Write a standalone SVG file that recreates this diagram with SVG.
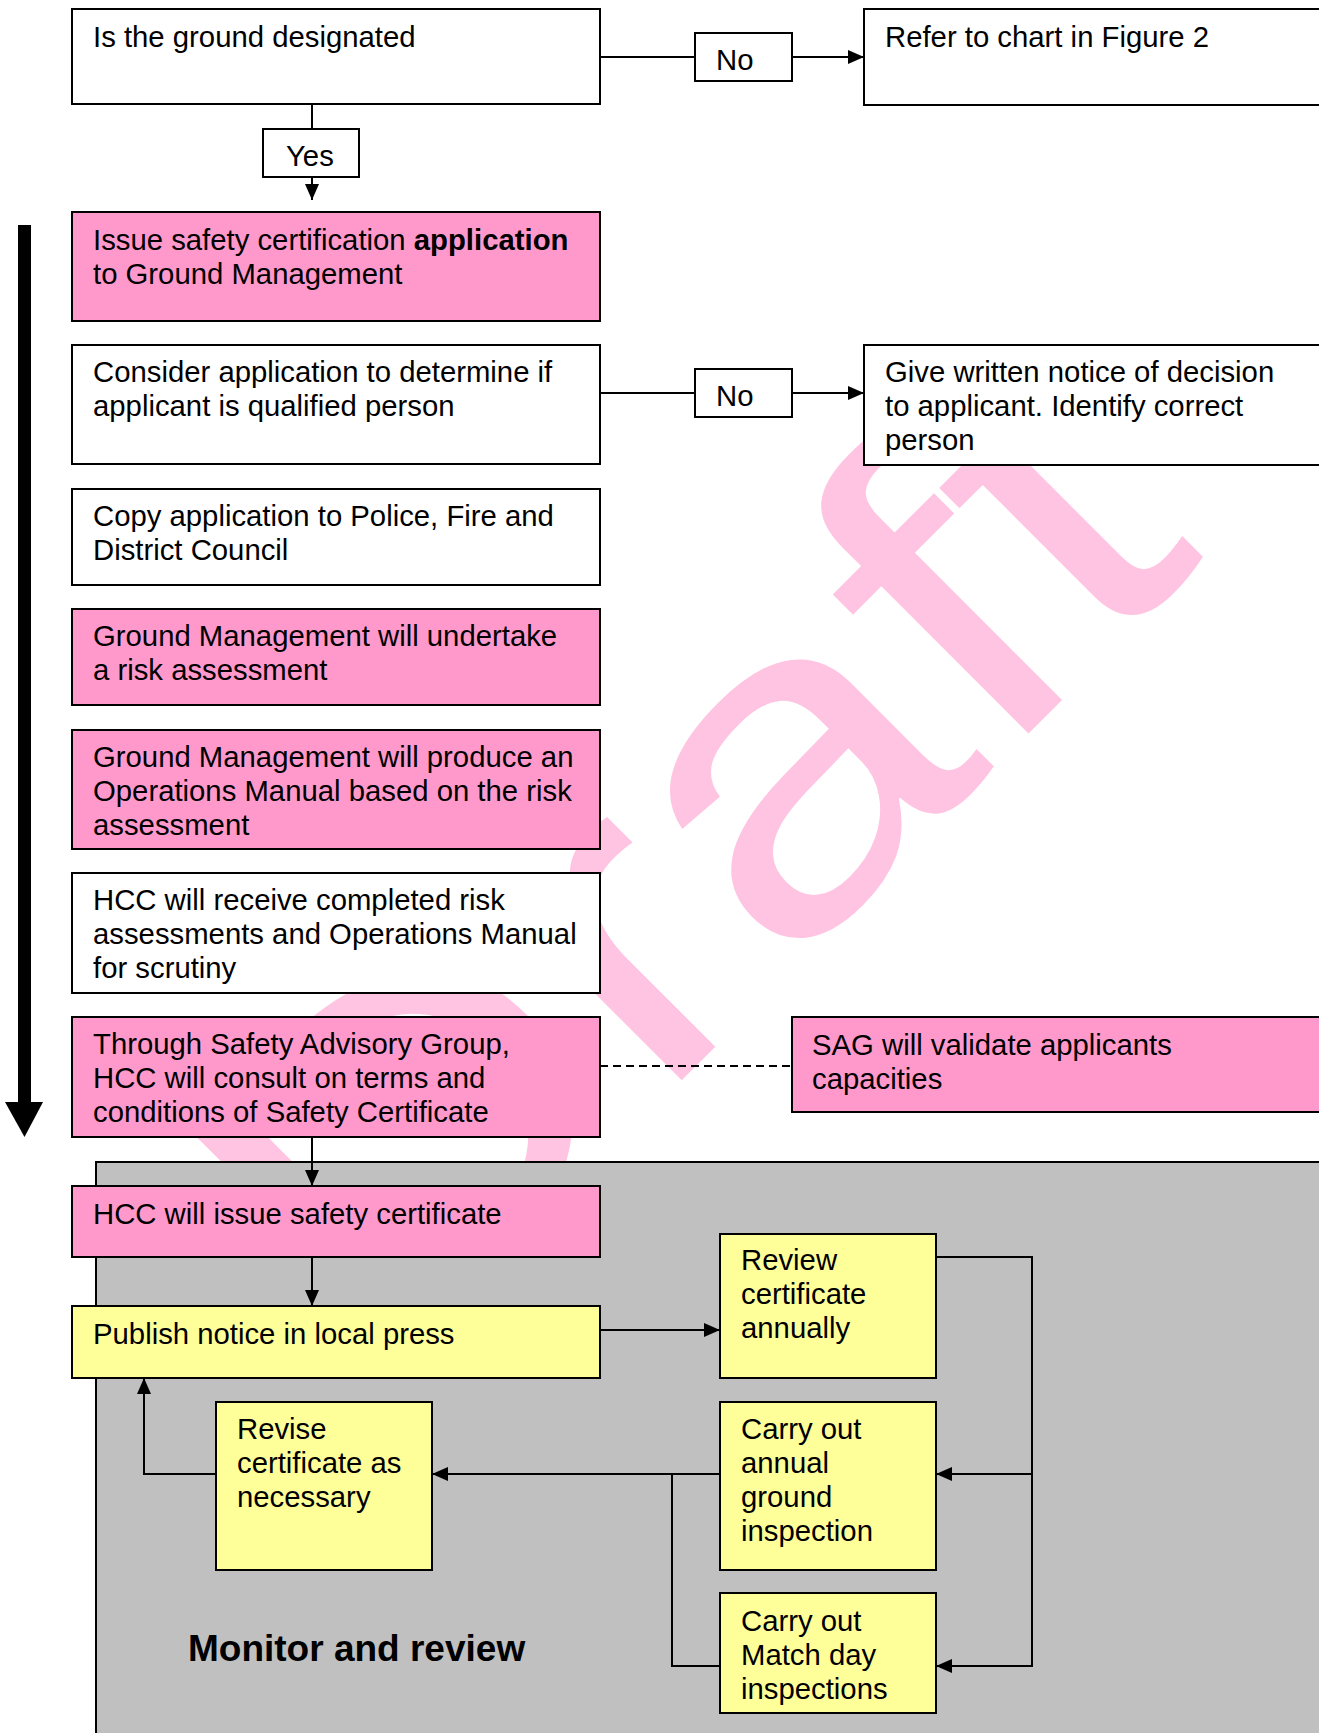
<svg xmlns="http://www.w3.org/2000/svg" width="1319" height="1733" viewBox="0 0 1319 1733">
<style>
text{font-family:"Liberation Sans",Arial,sans-serif;font-size:29.3px;fill:#000}
.box{stroke:#000;stroke-width:2}
.w{fill:#fff}.p{fill:#ff99cc}.y{fill:#ffff99}
.ln{fill:none;stroke:#000;stroke-width:2}
.wm{font-size:540px;fill:#ffc4e2}
.title{font-size:37px;font-weight:bold}
</style>
<defs>
<marker id="ah" markerUnits="userSpaceOnUse" markerWidth="16" markerHeight="14" refX="16" refY="7" orient="auto"><path d="M0,0 L16,7 L0,14 z" fill="#000"/></marker>
</defs>
<rect x="0" y="0" width="1319" height="1733" fill="#fff"/>
<text class="wm" x="0" y="0" transform="translate(379.5 1382.5) rotate(-45) scale(1 0.83)">Draft</text>
<rect id="monitor-area" x="96" y="1162" width="1240" height="600" fill="#c0c0c0" stroke="#000" stroke-width="2"/>
<g id="progress-arrow">
<rect x="18" y="225" width="13" height="878" fill="#000"/>
<polygon points="5,1102 43,1102 24.5,1137" fill="#000"/>
</g>
<g id="connectors">
<path class="ln" d="M600,57 H695"/>
<path class="ln" d="M792,57 H864" marker-end="url(#ah)"/>
<path class="ln" d="M312,104 V129"/>
<path class="ln" d="M312,177 V200" marker-end="url(#ah)"/>
<path class="ln" d="M600,393 H695"/>
<path class="ln" d="M792,393 H864" marker-end="url(#ah)"/>
<path class="ln" d="M600,1066 H792" stroke-dasharray="8,5" stroke-width="1.6"/>
<path class="ln" d="M312,1137 V1186" marker-end="url(#ah)"/>
<path class="ln" d="M312,1257 V1306" marker-end="url(#ah)"/>
<path class="ln" d="M600,1330 H720" marker-end="url(#ah)"/>
<path class="ln" d="M936,1257 H1032 V1666 H936" marker-end="url(#ah)"/>
<path class="ln" d="M1032,1474 H936" marker-end="url(#ah)"/>
<path class="ln" d="M720,1474 H432" marker-end="url(#ah)"/>
<path class="ln" d="M720,1666 H672 V1474"/>
<path class="ln" d="M216,1474 H144 V1378" marker-end="url(#ah)"/>
</g>
<g id="n-designated"><rect class="box w" x="72" y="9" width="528" height="95"/><text x="93" y="47">Is the ground designated</text></g>
<g id="l-yes"><rect class="box w" x="263" y="129" width="96" height="48"/><text x="286" y="166">Yes</text></g>
<g id="l-no1"><rect class="box w" x="695" y="33" width="97" height="48"/><text x="716" y="70">No</text></g>
<g id="n-refer"><rect class="box w" x="864" y="9" width="480" height="96"/><text x="885" y="47">Refer to chart in Figure 2</text></g>
<g id="n-issue-app"><rect class="box p" x="72" y="212" width="528" height="109"/><text x="93" y="250">Issue safety certification <tspan font-weight="bold">application</tspan></text><text x="93" y="284">to Ground Management</text></g>
<g id="n-consider"><rect class="box w" x="72" y="345" width="528" height="119"/><text x="93" y="382">Consider application to determine if</text><text x="93" y="416">applicant is qualified person</text></g>
<g id="l-no2"><rect class="box w" x="695" y="369" width="97" height="48"/><text x="716" y="406">No</text></g>
<g id="n-notice"><rect class="box w" x="864" y="345" width="480" height="120"/><text x="885" y="382">Give written notice of decision</text><text x="885" y="416">to applicant. Identify correct</text><text x="885" y="450">person</text></g>
<g id="n-copy"><rect class="box w" x="72" y="489" width="528" height="96"/><text x="93" y="526">Copy application to Police, Fire and</text><text x="93" y="560">District Council</text></g>
<g id="n-risk"><rect class="box p" x="72" y="609" width="528" height="96"/><text x="93" y="646">Ground Management will undertake</text><text x="93" y="680">a risk assessment</text></g>
<g id="n-manual"><rect class="box p" x="72" y="730" width="528" height="119"/><text x="93" y="767">Ground Management will produce an</text><text x="93" y="801">Operations Manual based on the risk</text><text x="93" y="835">assessment</text></g>
<g id="n-receive"><rect class="box w" x="72" y="873" width="528" height="120"/><text x="93" y="910">HCC will receive completed risk</text><text x="93" y="944">assessments and Operations Manual</text><text x="93" y="978">for scrutiny</text></g>
<g id="n-consult"><rect class="box p" x="72" y="1017" width="528" height="120"/><text x="93" y="1054">Through Safety Advisory Group,</text><text x="93" y="1088">HCC will consult on terms and</text><text x="93" y="1122">conditions of Safety Certificate</text></g>
<g id="n-sag"><rect class="box p" x="792" y="1017" width="550" height="95"/><text x="812" y="1055">SAG will validate applicants</text><text x="812" y="1089">capacities</text></g>
<g id="n-issue-cert"><rect class="box p" x="72" y="1186" width="528" height="71"/><text x="93" y="1224">HCC will issue safety certificate</text></g>
<g id="n-publish"><rect class="box y" x="72" y="1306" width="528" height="72"/><text x="93" y="1344">Publish notice in local press</text></g>
<g id="n-review"><rect class="box y" x="720" y="1234" width="216" height="144"/><text x="741" y="1270">Review</text><text x="741" y="1304">certificate</text><text x="741" y="1338">annually</text></g>
<g id="n-annual"><rect class="box y" x="720" y="1402" width="216" height="168"/><text x="741" y="1439">Carry out</text><text x="741" y="1473">annual</text><text x="741" y="1507">ground</text><text x="741" y="1541">inspection</text></g>
<g id="n-matchday"><rect class="box y" x="720" y="1593" width="216" height="120"/><text x="741" y="1631">Carry out</text><text x="741" y="1665">Match day</text><text x="741" y="1699">inspections</text></g>
<g id="n-revise"><rect class="box y" x="216" y="1402" width="216" height="168"/><text x="237" y="1439">Revise</text><text x="237" y="1473">certificate as</text><text x="237" y="1507">necessary</text></g>
<text class="title" x="188" y="1661">Monitor and review</text>
</svg>
